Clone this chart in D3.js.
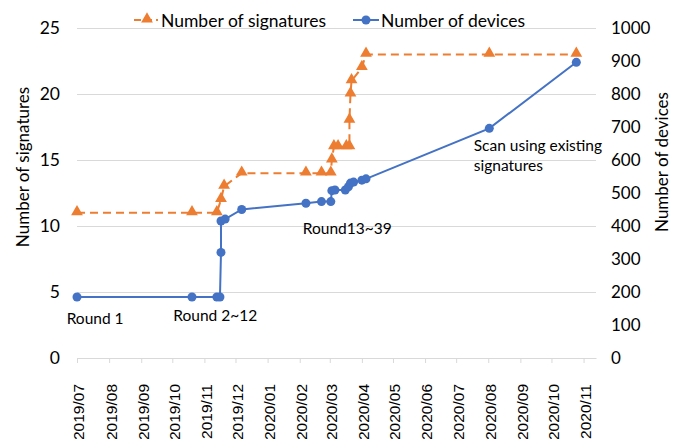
<!DOCTYPE html>
<html><head><meta charset="utf-8">
<script src="https://cdnjs.cloudflare.com/ajax/libs/d3/7.8.5/d3.min.js"></script>
<style>
html,body{margin:0;padding:0;background:#fff;}
svg{display:block;}
</style></head>
<body>
<svg id="chart" width="683" height="439"></svg>
<script>
// ---- data ----
const sigDates = ["2019-07-01","2019-10-20","2019-11-13","2019-11-17","2019-11-20","2019-12-07","2020-02-07","2020-02-22","2020-03-02","2020-03-03","2020-03-05","2020-03-09","2020-03-17","2020-03-20","2020-03-20","2020-03-21","2020-03-22","2020-04-01","2020-04-05","2020-08-02","2020-10-25"];
const sigValues = [11,11,11,12,13,14,14,14,14,15,16,16,16,16,18,20,21,22,23,23,23];
const devDates = ["2019-07-01","2019-10-20","2019-11-13","2019-11-16","2019-11-17","2019-11-17","2019-11-21","2019-12-07","2020-02-07","2020-02-22","2020-03-02","2020-03-03","2020-03-06","2020-03-16","2020-03-19","2020-03-21","2020-03-24","2020-04-01","2020-04-05","2020-08-02","2020-10-25"];
const devValues = [185,185,185,185,320,415,421,450,469,474,474,507,509,509,519,530,533,539,543,696,896];
const leftTicks = [0,5,10,15,20,25];
const rightTicks = [0,100,200,300,400,500,600,700,800,900,1000];
const seriesNames = ["Number of signatures","Number of devices"];
const annotations = [
  {text:["Round 1"], date:"2019-06-21", y:318},
  {text:["Round 2~12"], date:"2019-10-02", y:315},
  {text:["Round13~39"], date:"2020-02-04", y:228},
  {text:["Scan using existing","signatures"], date:"2020-07-18", y:145}
];

const parse = d3.timeParse("%Y-%m-%d");
const sig = sigDates.map((d,i)=>({d:parse(d), v:sigValues[i]}));
const dev = devDates.map((d,i)=>({d:parse(d), v:devValues[i]}));

const svg = d3.select("#chart");
const L = 77, R = 596, T = 28, B = 358;
const orange = "#ED7D31", blue = "#4472C4", grid = "#D9D9D9";
const fontMain = "Lato, 'Noto Sans', sans-serif";

const x = d3.scaleTime().domain([parse("2019-07-01"), parse("2020-11-13")]).range([L, R]);
const yL = d3.scaleLinear().domain([0,25]).range([B, T]);
const yR = d3.scaleLinear().domain([0,1000]).range([B, T]);

// gridlines
svg.append("g").selectAll("line").data(leftTicks).join("line")
  .attr("x1", L).attr("x2", R)
  .attr("y1", d=>yL(d)).attr("y2", d=>yL(d))
  .attr("stroke", grid).attr("stroke-width", 1).attr("shape-rendering","crispEdges");

// left axis
const gL = svg.append("g").attr("transform", `translate(${L},0)`)
  .call(d3.axisLeft(yL).tickValues(leftTicks).tickSize(0).tickPadding(17));
gL.select(".domain").remove();
gL.selectAll("text").attr("font-family", fontMain).attr("font-size", 17.5).attr("fill","#000");

// right axis
const gR = svg.append("g").attr("transform", `translate(${R},0)`)
  .call(d3.axisRight(yR).tickValues(rightTicks).tickFormat(d3.format("d")).tickSize(0).tickPadding(15));
gR.select(".domain").remove();
gR.selectAll("text").attr("font-family", fontMain).attr("font-size", 17).attr("fill","#000");

// x axis
const months = d3.timeMonth.range(parse("2019-07-01"), parse("2020-11-02"));
const gX = svg.append("g").attr("transform", `translate(0,${B})`)
  .call(d3.axisBottom(x).tickValues(months).tickFormat(d3.timeFormat("%Y/%m")).tickSize(5).tickSizeOuter(0));
gX.select(".domain").attr("stroke", grid);
gX.selectAll(".tick line").attr("stroke", grid);
gX.selectAll(".tick text")
  .attr("font-family", "'Liberation Sans', Arial, sans-serif").attr("font-size", 15.5).attr("fill","#000")
  .attr("text-anchor","end").attr("dy","0.38em").attr("y",1).attr("x",-26)
  .attr("transform","rotate(-90)");

// axis titles
svg.append("text").attr("transform","translate(22,167) rotate(-90)")
  .attr("text-anchor","middle").attr("dominant-baseline","central")
  .attr("font-family", fontMain).attr("font-size",17).text("Number of signatures");
svg.append("text").attr("transform","translate(661,162) rotate(-90)")
  .attr("text-anchor","middle").attr("dominant-baseline","central")
  .attr("font-family", fontMain).attr("font-size",17).text("Number of devices");

// series: signatures
const lineS = d3.line().x(d=>x(d.d)).y(d=>yL(d.v));
svg.append("path").datum(sig).attr("d", lineS).attr("fill","none")
  .attr("stroke", orange).attr("stroke-width",2).attr("stroke-dasharray","8,5");
const tri = d3.symbol().type(d3.symbolTriangle).size(60);
svg.append("g").selectAll("path").data(sig).join("path")
  .attr("d", tri).attr("transform", d=>`translate(${x(d.d)},${yL(d.v)-1})`).attr("fill", orange);

// series: devices
const lineD = d3.line().x(d=>x(d.d)).y(d=>yR(d.v));
svg.append("path").datum(dev).attr("d", lineD).attr("fill","none")
  .attr("stroke", blue).attr("stroke-width",2);
svg.append("g").selectAll("circle").data(dev).join("circle")
  .attr("cx", d=>x(d.d)).attr("cy", d=>yR(d.v)).attr("r",4.5).attr("fill", blue);

// annotations
annotations.forEach(a=>{
  a.text.forEach((t,i)=>{
    svg.append("text").attr("x", x(parse(a.date))).attr("y", a.y + i*20)
      .attr("dominant-baseline","central").attr("font-family", fontMain).attr("font-size",15.5)
      .attr("fill","#000").text(t);
  });
});

// legend
const lg = svg.append("g");
lg.append("line").attr("x1",134).attr("x2",158).attr("y1",20).attr("y2",20)
  .attr("stroke",orange).attr("stroke-width",2).attr("stroke-dasharray","7,4");
lg.append("path").attr("d",tri).attr("transform","translate(147,19)").attr("fill",orange);
lg.append("text").attr("x",161).attr("y",20).attr("dominant-baseline","central")
  .attr("font-family",fontMain).attr("font-size",17.5).text(seriesNames[0]);
lg.append("line").attr("x1",353).attr("x2",379).attr("y1",20).attr("y2",20)
  .attr("stroke",blue).attr("stroke-width",2);
lg.append("circle").attr("cx",366).attr("cy",20).attr("r",4.5).attr("fill",blue);
lg.append("text").attr("x",381).attr("y",20).attr("dominant-baseline","central")
  .attr("font-family",fontMain).attr("font-size",17.5).text(seriesNames[1]);
</script>
</body></html>
